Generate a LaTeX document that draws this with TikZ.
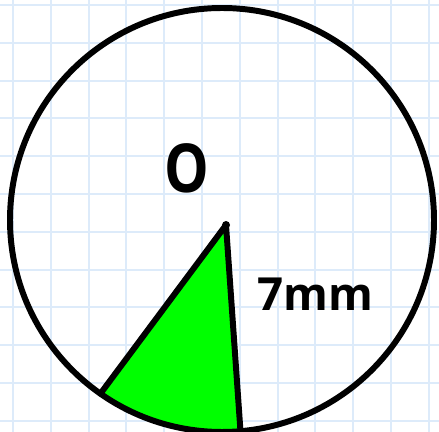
\documentclass[tikz,border=0pt]{standalone}
\usepackage{fontspec}
\setmainfont{Open Sans}
\usepackage{xcolor}
\usepackage{tikz}
\usetikzlibrary{calc}

\definecolor{gridblue}{RGB}{221,235,250}
\definecolor{sectorgreen}{RGB}{0,255,0}

\begin{document}
\begin{tikzpicture}[x=0.02cm, y=0.02cm,
    gridline/.style={gridblue, line width=1.1pt},
    outline/.style={draw, line width=3.4pt, line join=round, line cap=round},
    label/.style={font=\fontsize{26}{28}\selectfont\bfseries, inner sep=0pt}]
  \useasboundingbox[fill=white] (0,0) rectangle (439,432);
  % squared paper
  \foreach \k in {0,...,11} {
    \draw[gridline] ({13+37.8*\k},0) -- ({13+37.8*\k},432);
    \draw[gridline] (0,{427-37.8*\k}) -- (439,{427-37.8*\k});
  }
  \coordinate (c) at (222,212);
  \coordinate (o) at (226,207);
  \coordinate (a) at ($(c)+(235:212)$);
  \coordinate (b) at ($(c)+(275:212)$);
  % sector
  \fill[sectorgreen] (o) -- (a) arc[start angle=235, end angle=275, radius=212] -- cycle;
  \draw[outline] (a) -- (o) -- (b);
  \draw[outline] (c) circle[radius=212];
  \fill (o) circle[radius=4];
  \node[label, font=\fontsize{32}{34}\selectfont\bfseries, yscale=1.2] (lblO) at (187,264) {O};
  \node[label] (lblR) at (315,138) {7mm};
\end{tikzpicture}
\end{document}
